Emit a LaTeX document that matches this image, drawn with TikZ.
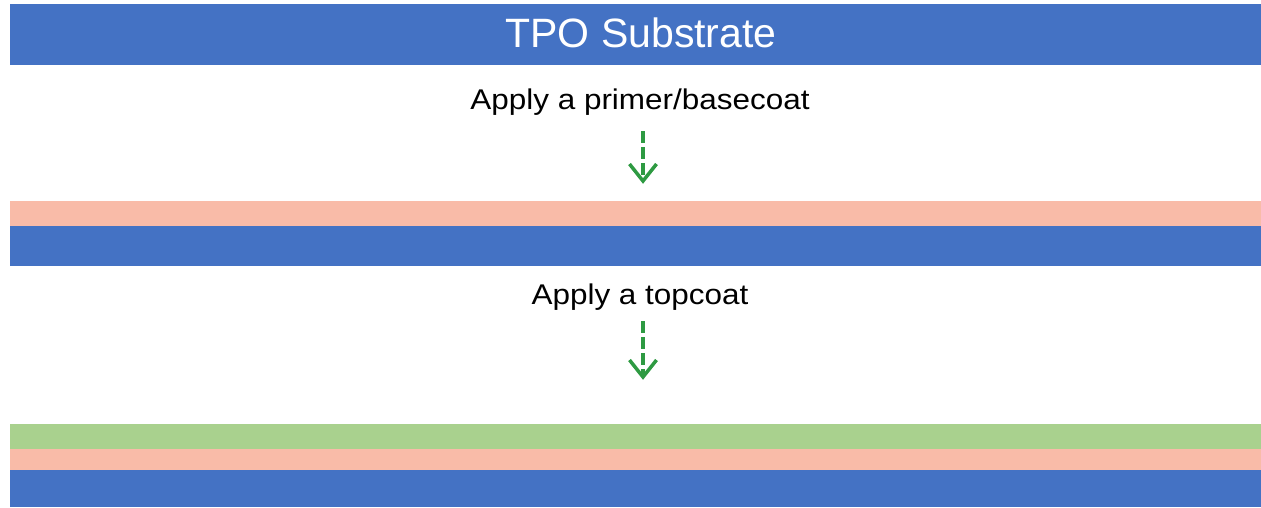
\documentclass[tikz,border=0pt]{standalone}
\usepackage{fontspec}
\setmainfont{Liberation Sans}
\usetikzlibrary{positioning}
\definecolor{layerblue}{HTML}{4472C4}
\definecolor{layersalmon}{HTML}{F9BBA8}
\definecolor{layergreen}{HTML}{A9D18E}
\definecolor{arrowgreen}{HTML}{2E9A42}
\tikzset{
  layer/.style={draw=none},
  steptext/.style={inner sep=0pt, anchor=base, text=black, font=\fontsize{28.5}{31}\selectfont},
  dasharrow/.style={draw=arrowgreen, line width=3.5pt, dash pattern=on 12pt off 4pt},
  chevron/.style={draw=arrowgreen, line width=3.5pt, line join=miter, line cap=butt}
}
\begin{document}
\begin{tikzpicture}[x=1pt,y=-1pt]
\useasboundingbox (0,0) rectangle (1261,507);
% top substrate
\fill[layerblue] (10,4) rectangle (1261,65);
\node[inner sep=0pt, anchor=base, text=white, font=\fontsize{41}{45}\selectfont] (title) at (641,47.7) {TPO Substrate};
% step 1
\node[steptext] (s1) at (640,109) {\scalebox{1.104}[1]{Apply a primer/basecoat}};
\coordinate (a1s) at (643,131);
\coordinate (a1e) at (643,181);
\draw[dasharrow] (a1s) -- (a1e);
\draw[chevron] (629.5,164) -- (a1e) -- (656.5,164);
% layer set 2
\fill[layersalmon] (10,201) rectangle (1261,226);
\fill[layerblue] (10,226) rectangle (1261,266);
% step 2
\node[steptext] (s2) at (640,304) {\scalebox{1.104}[1]{Apply a topcoat}};
\coordinate (a2s) at (643,321);
\coordinate (a2e) at (643,377);
\draw[dasharrow] (a2s) -- (a2e);
\draw[chevron] (629.5,360) -- (a2e) -- (656.5,360);
% layer set 3
\fill[layergreen] (10,424) rectangle (1261,449);
\fill[layersalmon] (10,449) rectangle (1261,470);
\fill[layerblue] (10,470) rectangle (1261,507);
\end{tikzpicture}
\end{document}
